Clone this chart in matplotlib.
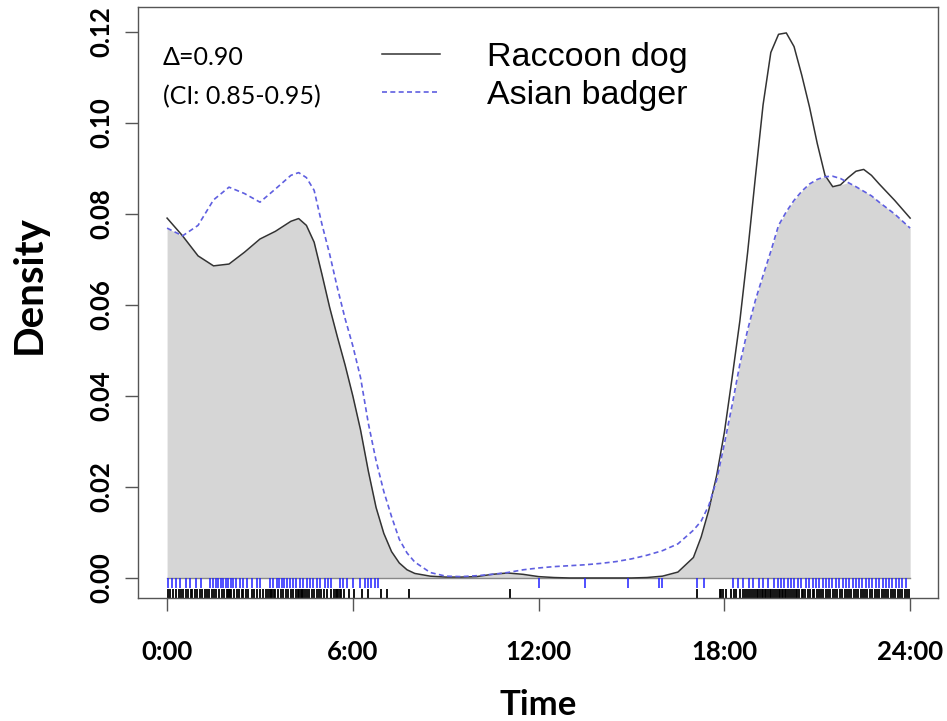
import numpy as np
import matplotlib
matplotlib.use("Agg")
import matplotlib.pyplot as plt

# time of day (hours) where the two density curves were read
hours = [0, 0.5, 1, 1.5, 2, 2.5, 3, 3.5, 4, 4.25, 4.5, 4.75, 5, 5.25, 5.5, 5.75,
         6, 6.25, 6.5, 6.75, 7, 7.25, 7.5, 7.75, 8, 8.5, 9, 9.5, 10, 10.5, 11,
         11.5, 12, 12.5, 13, 13.5, 14, 14.5, 15, 15.5, 16, 16.5, 17, 17.25, 17.5,
         17.75, 18, 18.25, 18.5, 18.75, 19, 19.25, 19.5, 19.75, 20, 20.25, 20.5,
         20.75, 21, 21.25, 21.5, 21.75, 22, 22.25, 22.5, 22.75, 23, 23.5, 24]

raccoon = [0.0791, 0.0752, 0.0708, 0.0686, 0.0690, 0.0716, 0.0745, 0.0762, 0.0784,
           0.0790, 0.0775, 0.0738, 0.0668, 0.0595, 0.0530, 0.0468, 0.0400, 0.0325,
           0.0235, 0.0155, 0.0098, 0.0058, 0.0033, 0.0018, 0.0010, 0.0004, 0.0002,
           0.0002, 0.0003, 0.0008, 0.0011, 0.0008, 0.0003, 0.0001, 0.0, 0.0, 0.0,
           0.0, 0.0, 0.0001, 0.0004, 0.0013, 0.0045, 0.0090, 0.0150, 0.0225, 0.0320,
           0.0440, 0.0565, 0.0715, 0.0880, 0.1040, 0.1155, 0.1195, 0.1198, 0.1168,
           0.1105, 0.1035, 0.0955, 0.0885, 0.0860, 0.0864, 0.0880, 0.0894, 0.0898,
           0.0885, 0.0866, 0.0830, 0.0791]

badger = [0.0769, 0.0752, 0.0775, 0.0831, 0.0859, 0.0845, 0.0826, 0.0855, 0.0885,
          0.0891, 0.0880, 0.0852, 0.0778, 0.0712, 0.0638, 0.0570, 0.0510, 0.0440,
          0.0340, 0.0258, 0.0190, 0.0135, 0.0085, 0.0055, 0.0035, 0.0012, 0.0004,
          0.0003, 0.0005, 0.0008, 0.0012, 0.0018, 0.0022, 0.0025, 0.0027, 0.0029,
          0.0032, 0.0036, 0.0042, 0.0050, 0.0060, 0.0075, 0.0105, 0.0125, 0.0160,
          0.0215, 0.0295, 0.0380, 0.0470, 0.0545, 0.0610, 0.0665, 0.0718, 0.0775,
          0.0805, 0.0830, 0.0850, 0.0866, 0.0876, 0.0882, 0.0883, 0.0878, 0.0869,
          0.0860, 0.0850, 0.0840, 0.0826, 0.0800, 0.0769]

# detection times (rug)
badger_rug = [0.04, 0.15, 0.29, 0.42, 0.61, 0.74, 0.94, 1.09, 1.39, 1.49, 1.58, 1.66,
              1.73, 1.82, 1.90, 1.98, 2.05, 2.14, 2.23, 2.35, 2.46, 2.59, 2.73, 2.89,
              3.0, 3.32, 3.43, 3.54, 3.62, 3.70, 3.77, 3.86, 3.97, 4.07, 4.18, 4.29,
              4.40, 4.51, 4.61, 4.72, 4.83, 4.94, 5.10, 5.20, 5.31, 5.58, 5.69, 5.80,
              6.01, 6.23, 6.39, 6.49, 6.60, 6.71, 6.82,
              12.0, 13.5, 14.9, 15.9, 16.0, 17.1, 17.35,
              18.27, 18.43, 18.59, 18.81, 18.91, 19.13, 19.24, 19.40, 19.61, 19.72,
              19.83, 19.94, 20.04, 20.15, 20.26, 20.37, 20.47, 20.64, 20.74, 20.85,
              20.96, 21.06, 21.17, 21.28, 21.39, 21.49, 21.60, 21.71, 21.82, 21.93,
              22.03, 22.14, 22.25, 22.35, 22.46, 22.57, 22.68, 22.78, 22.89, 23.0,
              23.11, 23.21, 23.32, 23.43, 23.54, 23.65, 23.75, 23.86]

raccoon_rug = [0.02, 0.10, 0.18, 0.29, 0.37, 0.45, 0.52, 0.60, 0.69, 0.76, 0.82, 0.90,
               0.98, 1.05, 1.14, 1.22, 1.30, 1.35, 1.44, 1.51, 1.59, 1.68, 1.76, 1.84,
               1.92, 1.96, 2.00, 2.04, 2.08, 2.16, 2.25, 2.33, 2.41, 2.46, 2.55, 2.62,
               2.73, 2.81, 2.89, 3.00, 3.11, 3.19, 3.27, 3.31, 3.35, 3.39, 3.44, 3.48,
               3.59, 3.67, 3.75, 3.84, 3.91, 3.99, 4.07, 4.16, 4.24, 4.27, 4.31, 4.35,
               4.40, 4.45, 4.52, 4.59, 4.67, 4.76, 4.83, 4.91, 4.98, 5.06, 5.17, 5.28,
               5.39, 5.44, 5.48, 5.52, 5.57, 5.63, 5.73, 5.89, 6.05, 6.3, 6.5, 6.9,
               7.1, 7.8, 11.06,
               17.1, 17.85, 17.9, 17.95, 18.05, 18.2, 18.3, 18.38, 18.5, 18.6, 18.66,
               18.72, 18.8, 18.87, 18.93, 19.0, 19.06, 19.1, 19.15, 19.2, 19.26, 19.3,
               19.36, 19.42, 19.48, 19.52, 19.58, 19.65, 19.7, 19.75, 19.8, 19.86,
               19.9, 19.95, 20.0, 20.06, 20.12, 20.18, 20.24, 20.3, 20.36, 20.42, 20.5,
               20.55, 20.62, 20.7, 20.78, 20.85, 20.9, 20.98, 21.05, 21.12, 21.2,
               21.28, 21.35, 21.42, 21.5, 21.58, 21.65, 21.72, 21.8, 21.88, 21.95,
               22.02, 22.1, 22.18, 22.25, 22.32, 22.4, 22.48, 22.55, 22.62, 22.7,
               22.78, 22.85, 22.92, 23.0, 23.08, 23.15, 23.22, 23.3, 23.38, 23.45,
               23.52, 23.6, 23.68, 23.75, 23.82, 23.9, 23.97]

xticks = [0, 6, 12, 18, 24]
xtick_labels = ["0:00", "6:00", "12:00", "18:00", "24:00"]
yticks = [0.00, 0.02, 0.04, 0.06, 0.08, 0.10, 0.12]

fig = plt.figure(figsize=(9.47, 7.21), dpi=100)
ax = fig.add_axes([0.1457, 0.1706, 0.8448, 0.8197])

overlap = np.minimum(raccoon, badger)
ax.fill_between(hours, 0, overlap, color="#d6d6d6", lw=0)
ax.plot([hours[0], hours[-1]], [0, 0], color="#888888", lw=1)
ax.plot(hours, raccoon, color="#333333", lw=1.1, label="Raccoon dog")
ax.plot(hours, badger, color="#5f5fe0", lw=1.2, dashes=(3, 2), label="Asian badger")

ax.vlines(badger_rug, -0.0023, 0.0001, color="#2020ff", lw=1.1)
ax.vlines(raccoon_rug, -0.0044, -0.0025, color="black", lw=1.3)

ax.set_xlim(-0.94, 24.9)
ax.set_ylim(-0.0044, 0.1255)

ax.set_xticks(xticks)
ax.set_xticklabels(xtick_labels)
ax.set_yticks(yticks)
ax.set_yticklabels(["%.2f" % v for v in yticks])

for s in ax.spines.values():
    s.set_color("#555555")
    s.set_linewidth(1)

tick_font = dict(family="Lato", weight="bold", size=18.5)
ax.tick_params(axis="both", length=9.5, width=1, color="#555555")
ax.tick_params(axis="x", pad=21)
ax.tick_params(axis="y", pad=8)
for lab in ax.get_xticklabels():
    lab.set_fontproperties(tick_font)
for lab in ax.get_yticklabels():
    lab.set_fontproperties(tick_font)
    lab.set_rotation(90)
    lab.set_va("center")

ax.set_xlabel("Time", family="Lato", weight="bold", size=25, labelpad=18)
ax.set_ylabel("Density", family="Lato", weight="bold", size=29)
ax.yaxis.set_label_coords(-0.113, 0.53)

ax.text(0.031, 0.914, "Δ=0.90", transform=ax.transAxes, fontsize=18,
        family=["Lato", "DejaVu Sans"], va="center")
ax.text(0.031, 0.848, "(CI: 0.85-0.95)", transform=ax.transAxes, fontsize=18,
        family=["Lato", "DejaVu Sans"], va="center")

ax.legend(loc="upper left", bbox_to_anchor=(0.305, 0.941), frameon=False,
          prop=dict(family="Liberation Sans", size=24.5), handlelength=1.7,
          handletextpad=1.4, labelspacing=0.22, borderpad=0, borderaxespad=0)

fig.savefig("out.png", dpi=100)
